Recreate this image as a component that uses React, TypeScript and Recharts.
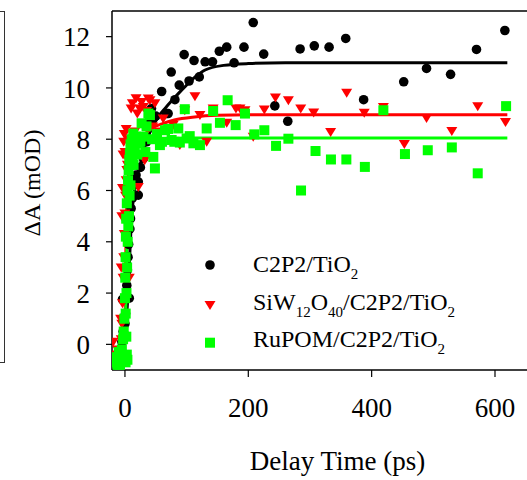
import React from 'react';
import { ComposedChart, Scatter, Line, XAxis, YAxis, ReferenceLine } from 'recharts';

// ---- C2P2/TiO2 (black circles)
const blackT = [-15, -12, -10, -8, -6, -5, -4, -3, -2, -1, 0, 1, 2, 3, 4, 5, 6, 7, 8, 9, 10, 12, 14, 16, 18, 21.6, 21.6, 25, 30, 35, 40.5, 43, 50, 59.5, 67.5, 70, 75, 81, 88, 96, 104, 112, 120.5, 130, 142, 153, 165, 177, 193, 208, 225, 243, 264, 284, 307, 331, 358, 387, 452, 489, 528, 570, 616];
const blackV = [-0.5, -0.6, -0.4, -0.3, -0.2, 0.1, 1.75, 0.5, 0.2, 0.4, 0.8, 1.2, 1.8, 2.3, 2.9, 3.4, 3.9, 1.8, 4.5, 4.9, 5.3, 5.7, 6.2, 6.5, 6.6, 5.82, 6.34, 6.9, 7.25, 7.9, 8.74, 9.2, 8.9, 9.86, 9.0, 9.0, 10.62, 9.54, 10.11, 11.3, 10.27, 11.07, 10.43, 11.02, 11.02, 11.43, 11.59, 10.98, 11.59, 12.55, 11.32, 9.3, 8.7, 11.52, 11.64, 11.59, 11.93, 9.54, 10.24, 10.76, 10.53, 11.5, 12.24];

// ---- SiW12O40/C2P2/TiO2 (red triangles)
const redT = [-19, -15, -12, -10, -8, -7, -6, -6, -5, -5, -4, -4, -3, -3, -2, -2, -1, -1, 0, 0, 1, 2, 2, 3, 4, 5, 5, 7, 8, 10, 10, 12, 13.5, 16, 18, 20, 21.6, 24, 27, 29.7, 32, 35, 37.8, 40.5, 45, 48.6, 55, 62, 78, 89, 97, 113.5, 121.6, 132.5, 143, 165, 180, 186.5, 194.6, 208, 226, 244, 265, 285, 306, 333.5, 359.5, 388, 419, 453, 489, 530, 572, 617];
const redV = [0.1, -0.4, -0.2, -0.5, -0.3, 1.0, 0.2, 3.0, 0.8, 5.0, 1.6, 6.1, 2.6, 7.4, 3.4, 7.9, 4.3, 8.2, 5.1, 7.5, 5.8, 6.4, 8.4, 6.8, 7.0, 7.2, 8.0, 2.6, 7.4, 7.6, 9.2, 9.4, 7.9, 8.3, 9.6, 9.0, 6.14, 9.2, 9.45, 9.26, 7.18, 9.1, 9.59, 9.52, 8.5, 9.4, 8.3, 8.81, 8.55, 7.77, 9.13, 9.68, 8.94, 7.9, 9.2, 8.64, 9.2, 9.2, 9.13, 8.1, 9.16, 9.63, 9.52, 9.2, 9.04, 8.28, 9.81, 9.03, 9.26, 7.81, 8.83, 8.32, 9.29, 8.67];

// ---- RuPOM/C2P2/TiO2 (green squares)
const greenT = [-17, -16, -15, -13, -12, -11, -10, -9, -8, -7, -6, -5, -4, -3, -2, -1, 0, 0.5, 1, 1, 1.2, 1.5, 2, 2.2, 2.5, 3, 3, 3.5, 4, 4, 4.5, 5, 5.5, 6, 6.5, 7, 7.5, 8, 9, 9, 10, 11, 12, 13.5, 14, 16, 18, 20, 21.6, 25, 27, 30, 33, 35, 38, 40.5, 44, 46, 48.6, 52, 56.7, 60, 65, 70, 75.7, 80, 86.5, 89, 97, 100, 105, 111, 121.6, 132.5, 143, 154, 166.5, 179.5, 194.6, 209.7, 226, 245, 265, 285.5, 309, 334, 359, 389, 419, 454, 491, 530, 572, 618];
const greenV = [-0.7, -0.5, -0.7, -0.6, -0.8, -0.7, -0.3, -0.5, -0.8, -0.3, -0.6, -0.2, -0.5, 0.2, 0.5, 1.0, 1.8, 2.6, 3.4, -0.7, 1.2, 4.2, 4.9, 0.3, 2.0, 5.5, -0.4, 3.0, 6.0, -0.6, 4.0, 6.4, 4.6, 6.8, 5.0, 7.2, 5.8, 7.45, 6.2, 7.8, 7.0, 8.0, 7.3, 8.22, 7.0, 7.6, 8.1, 7.4, 7.84, 7.9, 8.62, 8.1, 7.5, 8.5, 9.0, 8.94, 8.0, 7.31, 6.86, 8.2, 7.77, 7.9, 8.35, 8.4, 7.97, 7.9, 8.42, 7.87, 9.17, 8.03, 8.12, 7.84, 7.77, 8.42, 9.1, 8.64, 9.52, 8.55, 9.0, 8.19, 8.35, 7.74, 8.02, 6.0, 7.54, 7.21, 7.21, 6.92, 9.13, 7.42, 7.57, 7.68, 6.67, 9.29];

// ---- fitted curves
const blackFitT = [0, 2, 4, 6, 8, 10, 12, 16, 21, 27, 32, 43, 54, 65, 76, 97, 115, 130, 160, 200, 260, 400, 620];
const blackFitV = [0, 0.8, 1.6, 2.5, 3.6, 4.6, 5.3, 6.1, 6.7, 7.2, 7.7, 8.4, 8.87, 9.2, 9.5, 10.04, 10.45, 10.7, 10.88, 10.95, 10.98, 10.98, 10.98];
const redFitT = [0, 0.5, 1, 1.5, 2, 3, 4, 6, 8, 12, 16, 24, 32, 45, 60, 80, 113, 150, 200, 620];
const redFitV = [0, 1.5, 2.8, 3.8, 4.6, 5.5, 6.1, 6.7, 7.06, 7.45, 7.7, 8.0, 8.2, 8.45, 8.6, 8.75, 8.87, 8.93, 8.95, 8.95];
const greenFitT = [0, 1, 2, 3, 4, 5, 6, 8, 11, 15, 24, 40, 60, 100, 620];
const greenFitV = [0, 0.9, 2.3, 3.6, 4.7, 5.5, 6.1, 6.8, 7.3, 7.6, 7.84, 7.97, 8.03, 8.05, 8.05];

const xTicks = [0, 200, 400, 600];
const yTicks = [0, 2, 4, 6, 8, 10, 12];

const zip = (t: number[], v: number[]) => t.map((x, i) => ({ x, y: v[i] }));
const blackData = zip(blackT, blackV);
const redData = zip(redT, redV);
const greenData = zip(greenT, greenV);
const blackFit = zip(blackFitT, blackFitV);
const redFit = zip(redFitT, redFitV);
const greenFit = zip(greenFitT, greenFitV);

const FONT = '"Liberation Serif", "Times New Roman", serif';
const RED = '#ff0000';
const GREEN = '#00ff00';

const Circle = (p: any) => <circle cx={p.cx} cy={p.cy} r={4.8} fill="#000" />;
const TriDown = (p: any) => (
  <polygon points={`${p.cx - 5.5},${p.cy - 4} ${p.cx + 5.5},${p.cy - 4} ${p.cx},${p.cy + 5}`} fill={RED} />
);
const Square = (p: any) => <rect x={p.cx - 5} y={p.cy - 5} width={10} height={10} fill={GREEN} />;

const Sub = ({ children }: { children: React.ReactNode }) => (
  <tspan dy={7} fontSize={15}>{children}</tspan>
);
const Up = ({ children }: { children: React.ReactNode }) => <tspan dy={-7}>{children}</tspan>;

export default function App() {
  return (
    <div style={{ position: 'fixed', left: 0, top: 0, width: 527, height: 480, overflow: 'hidden', background: '#fff' }}>
      <div style={{ position: 'absolute', left: 0, top: 11, width: 4, height: 350, borderTop: '1.5px solid #333', borderRight: '1.5px solid #333', borderBottom: '1.5px solid #333' }} />
      <ComposedChart width={560} height={480} margin={{ top: 11, right: 28, bottom: 80, left: 52 }}>
        <XAxis
          dataKey="x"
          type="number"
          domain={[-21, 660]}
          ticks={xTicks}
          allowDataOverflow
          height={30}
          tickSize={7}
          tickMargin={20.5}
          axisLine={{ stroke: '#000', strokeWidth: 1.5 }}
          tickLine={{ stroke: '#000', strokeWidth: 1.2 }}
          tick={{ fontSize: 27, fill: '#000', fontFamily: FONT }}
        />
        <YAxis
          dataKey="y"
          type="number"
          domain={[-1, 13]}
          ticks={yTicks}
          allowDataOverflow
          width={60}
          tickSize={6}
          tickMargin={16}
          axisLine={{ stroke: '#000', strokeWidth: 1.5 }}
          tickLine={{ stroke: '#000', strokeWidth: 1.2 }}
          tick={{ fontSize: 27, fill: '#000', fontFamily: FONT }}
        />
        <ReferenceLine y={13} stroke="#000" strokeWidth={1.5} />
        <Scatter data={blackData} shape={Circle} isAnimationActive={false} />
        <Scatter data={redData} shape={TriDown} isAnimationActive={false} />
        <Scatter data={greenData} shape={Square} isAnimationActive={false} />
        <Line data={blackFit} dataKey="y" type="monotone" stroke="#000" strokeWidth={3} dot={false} isAnimationActive={false} />
        <Line data={redFit} dataKey="y" type="monotone" stroke={RED} strokeWidth={3} dot={false} isAnimationActive={false} />
        <Line data={greenFit} dataKey="y" type="monotone" stroke={GREEN} strokeWidth={3} dot={false} isAnimationActive={false} />
      </ComposedChart>
      <svg width={527} height={480} style={{ position: 'absolute', left: 0, top: 0, pointerEvents: 'none' }} fontFamily={FONT}>
        <text x={40} y={183} transform="rotate(-90 40 183)" textAnchor="middle" fontSize={24} fill="#000">ΔA (mOD)</text>
        <text x={337.5} y={470} textAnchor="middle" fontSize={27} fill="#000">Delay Time (ps)</text>
        <circle cx={210} cy={265} r={4.8} fill="#000" />
        <polygon points="204.5,301 215.5,301 210,310" fill={RED} />
        <rect x={205} y={337.7} width={10} height={10} fill={GREEN} />
        <text x={253} y={271.7} fontSize={24} fill="#000">C2P2/TiO<Sub>2</Sub></text>
        <text x={253} y={310} fontSize={24} fill="#000">SiW<Sub>12</Sub><Up>O</Up><Sub>40</Sub><Up>/C2P2/TiO</Up><Sub>2</Sub></text>
        <text x={253} y={346.7} fontSize={24} fill="#000">RuPOM/C2P2/TiO<Sub>2</Sub></text>
      </svg>
    </div>
  );
}
